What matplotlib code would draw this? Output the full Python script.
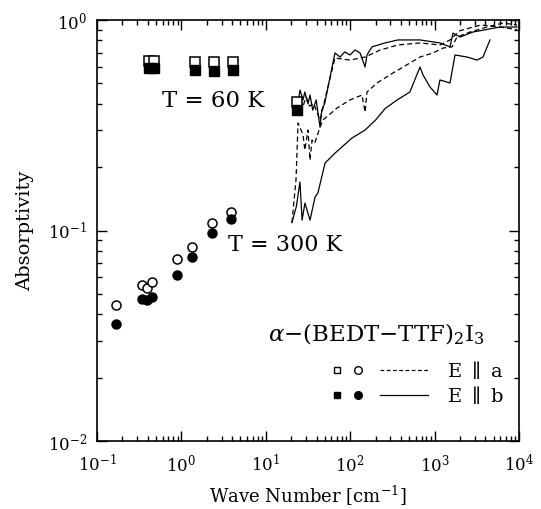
import matplotlib
matplotlib.use('Agg')
import matplotlib.pyplot as plt
from matplotlib.ticker import LogLocator, NullFormatter

plt.rcParams['font.family'] = ['DejaVu Serif']
plt.rcParams['mathtext.fontset'] = 'dejavuserif'

# ---- data ----
# T = 60 K squares (open: E||a, filled: E||b)
sq60_x = [0.41, 0.48, 1.45, 2.43, 4.08, 23.5]
sq60_a = [0.638, 0.638, 0.631, 0.631, 0.631, 0.41]
sq60_b = [0.59, 0.59, 0.578, 0.572, 0.578, 0.373]

# T = 300 K circles (open: E||a, filled: E||b)
c300_x = [0.17, 0.34, 0.39, 0.45, 0.875, 1.34, 2.3, 3.9]
c300_a = [0.0443, 0.055, 0.0533, 0.0569, 0.0732, 0.0838, 0.108, 0.123]
c300_b = [0.036, 0.0475, 0.0467, 0.0483, 0.0617, 0.0748, 0.097, 0.113]

# 60 K, E||b (solid)
s60b_x = [24.1, 25.4, 27.6, 29.0, 31.6, 33.4, 36.0, 39.5, 43.9, 46.0, 50.0, 61.0, 66.0,
          76.0, 86.0, 99.5, 114, 131, 150, 158, 181, 258, 368, 671, 1158, 1522, 1652,
          2000, 2852, 5954, 9465]
s60b_y = [0.403, 0.465, 0.417, 0.455, 0.40, 0.44, 0.373, 0.417, 0.31, 0.373, 0.403, 0.598,
          0.697, 0.667, 0.705, 0.682, 0.72, 0.697, 0.598, 0.682, 0.745, 0.778, 0.804,
          0.804, 0.778, 0.745, 0.867, 0.83, 0.877, 0.926, 0.926]

# 60 K, E||a (dashed)
s60a_x = [23.4, 25.0, 27.0, 30.0, 33.0, 37.0, 44.0, 57.0, 66.0, 99.5, 150, 226, 368,
          671, 1158, 1522, 2000, 3500, 5954, 9465]
s60a_y = [0.373, 0.42, 0.38, 0.43, 0.39, 0.40, 0.335, 0.519, 0.66, 0.645, 0.667, 0.72,
          0.761, 0.778, 0.761, 0.804, 0.89, 0.946, 0.926, 0.90]

# 300 K, E||a (dashed)
s300a_x = [20.4, 22.8, 24.1, 27.6, 29.0, 31.6, 33.4, 35.3, 38.0, 44.0, 47.6, 70.0, 99.5,
           138, 150, 158, 208, 321, 511, 671, 957, 1259, 1607, 1843, 2630, 4178, 6460, 9465]
s300a_y = [0.109, 0.174, 0.324, 0.285, 0.241, 0.30, 0.216, 0.269, 0.26, 0.31, 0.335, 0.382,
           0.417, 0.44, 0.365, 0.455, 0.502, 0.56, 0.625, 0.667, 0.697, 0.736, 0.745, 0.83,
           0.877, 0.926, 0.968, 0.946]

# 300 K, E||b (solid)
s300b_x = [20.4, 23.0, 25.4, 26.9, 29.1, 33.4, 38.3, 41.5, 50.3, 66.0, 105, 150, 200, 260,
           360, 510, 671, 729, 882, 1067, 1158, 1522, 1745, 2421, 3179, 3743, 4530]
s300b_y = [0.109, 0.13, 0.170, 0.112, 0.135, 0.112, 0.144, 0.151, 0.209, 0.233, 0.275, 0.30,
           0.335, 0.38, 0.417, 0.455, 0.598, 0.548, 0.481, 0.440, 0.519, 0.502, 0.682,
           0.667, 0.645, 0.667, 0.804]

# ---- figure ----
fig = plt.figure(figsize=(5.41, 5.09), dpi=100)
ax = fig.add_axes([97/541, 68/509, 422/541, 421/509])
ax.set_xscale('log')
ax.set_yscale('log')
ax.set_xlim(1e-1, 1e4)
ax.set_ylim(1e-2, 1e0)

lw = 0.9
ax.plot(s60b_x, s60b_y, '-', color='black', lw=lw)
ax.plot(s60a_x, s60a_y, '--', color='black', lw=lw, dashes=(4, 2.5))
ax.plot(s300a_x, s300a_y, '--', color='black', lw=lw, dashes=(4, 2.5))
ax.plot(s300b_x, s300b_y, '-', color='black', lw=lw)

ms = 6.5
ax.plot(sq60_x, sq60_a, 's', ms=ms, mfc='white', mec='black', mew=1.1, ls='none', zorder=3)
ax.plot(sq60_x, sq60_b, 's', ms=ms, mfc='black', mec='black', ls='none', zorder=4)
ax.plot(c300_x, c300_a, 'o', ms=ms, mfc='white', mec='black', mew=1.1, ls='none', zorder=3)
ax.plot(c300_x, c300_b, 'o', ms=ms, mfc='black', mec='black', ls='none', zorder=4)

# ticks
ax.xaxis.set_major_locator(LogLocator(base=10, numticks=10))
ax.xaxis.set_minor_locator(LogLocator(base=10, subs=range(2, 10), numticks=20))
ax.yaxis.set_major_locator(LogLocator(base=10, numticks=10))
ax.yaxis.set_minor_locator(LogLocator(base=10, subs=range(2, 10), numticks=20))
ax.xaxis.set_minor_formatter(NullFormatter())
ax.yaxis.set_minor_formatter(NullFormatter())
ax.tick_params(which='both', direction='in', top=True, right=True, width=1.0)
ax.tick_params(which='major', length=7, labelsize=12, pad=7)
ax.tick_params(axis='x', which='major', pad=9)
ax.tick_params(which='minor', length=3.5)
for s in ax.spines.values():
    s.set_linewidth(1.2)

ax.set_xlabel('Wave Number [cm$^{-1}$]', fontsize=13, labelpad=6)
ax.set_ylabel('Absorptivity', fontsize=14, labelpad=10)

# annotations
ax.text(0.154, 0.808, 'T = 60 K', transform=ax.transAxes, fontsize=16.5, va='center', ha='left')
ax.text(0.310, 0.466, 'T = 300 K', transform=ax.transAxes, fontsize=16, va='center', ha='left')
ax.text(0.405, 0.254, r'$\alpha$−(BEDT−TTF)$_2$I$_3$', transform=ax.transAxes, fontsize=16.5,
        va='center', ha='left')

# legend drawn by hand
for yy, fill, ls, lab in [(0.169, 'white', (0, (3, 2)), r'E $\parallel$ a'),
                          (0.109, 'black', '-', r'E $\parallel$ b')]:
    ax.plot([0.569], [yy], 's', ms=5, mfc=fill, mec='black', mew=1.0, transform=ax.transAxes)
    ax.plot([0.618], [yy], 'o', ms=5.5, mfc=fill, mec='black', mew=1.0, transform=ax.transAxes)
    ax.plot([0.671, 0.784], [yy, yy], color='black', lw=lw, ls=ls, transform=ax.transAxes)
    ax.text(0.829, yy, lab, transform=ax.transAxes, fontsize=14, va='center', ha='left')

fig.savefig('out.png', dpi=100)
